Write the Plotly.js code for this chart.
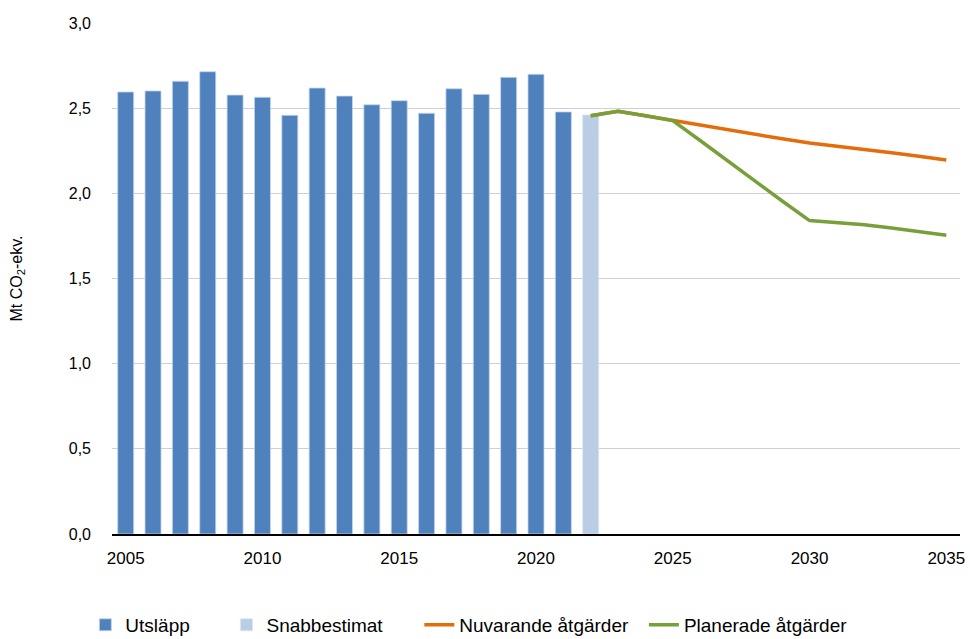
<!DOCTYPE html>
<html><head><meta charset="utf-8">
<script src="https://cdn.plot.ly/plotly-3.0.1.min.js"></script>
<style>html,body{margin:0;padding:0;background:#fff}#chart{width:970px;height:639px}</style>
</head><body><div id="chart"></div>
<script>
const yearsHist = [2005,2006,2007,2008,2009,2010,2011,2012,2013,2014,2015,2016,2017,2018,2019,2020,2021];
const utslapp = [2.595,2.601,2.658,2.714,2.577,2.564,2.458,2.618,2.571,2.520,2.544,2.470,2.614,2.581,2.681,2.699,2.478];
const yearsEst = [2022];
const snabb = [2.46];
const yearsProj = [2022,2023,2024,2025,2026,2027,2028,2029,2030,2031,2032,2033,2034,2035];
const nuvarande = [2.456,2.482,2.455,2.427,2.40,2.372,2.345,2.32,2.296,2.275,2.256,2.238,2.218,2.196];
const planerade = [2.456,2.482,2.455,2.427,2.31,2.19,2.07,1.955,1.84,1.828,1.815,1.797,1.775,1.754];
const seriesNames = ['Utsläpp','Snabbestimat','Nuvarande åtgärder','Planerade åtgärder'];
const xTicks = [2005,2010,2015,2020,2025,2030,2035];
const yTicks = [0,0.5,1.0,1.5,2.0,2.5,3.0];
const yTickText = ['0,0','0,5','1,0','1,5','2,0','2,5','3,0'];

const nb = n => '\u00A0'.repeat(n);
const font = 'Liberation Sans, Arial, sans-serif';
const traces = [
  {type:'bar', name:seriesNames[0]+nb(6), x:yearsHist, y:utslapp, width:0.585,
   marker:{color:'#4F81BD', line:{color:'#C6D5EA', width:0.8}}},
  {type:'bar', name:seriesNames[1]+nb(6), x:yearsEst, y:snabb, width:0.585,
   marker:{color:'#B9CDE5', line:{color:'#DCE6F2', width:0.8}}},
  {type:'scatter', mode:'lines', name:seriesNames[2]+nb(2), x:yearsProj, y:nuvarande,
   line:{color:'#E46C0A', width:3.5}},
  {type:'scatter', mode:'lines', name:seriesNames[3], x:yearsProj, y:planerade,
   line:{color:'#77A03B', width:3.5}}
];
const layout = {
  width:970, height:639,
  margin:{l:112, r:10, t:23, b:105},
  paper_bgcolor:'#fff', plot_bgcolor:'#fff',
  font:{family:font, size:16, color:'#000'},
  barmode:'overlay',
  showlegend:true,
  legend:{orientation:'h', xref:'container', x:0.088, xanchor:'left',
          yref:'container', y:0.022, yanchor:'middle',
          font:{size:19, family:font}, traceorder:'normal', itemwidth:30},
  xaxis:{range:[2004.5,2035.5], tickvals:xTicks, ticktext:xTicks.map(String),
         showgrid:false, showline:true, linecolor:'#000', linewidth:1.5,
         ticks:'', zeroline:false, ticklabelstandoff:8, tickfont:{size:17}, fixedrange:true},
  yaxis:{range:[0,3.0], tickvals:yTicks, ticktext:yTickText,
         showgrid:true, gridcolor:'#D0D0D0', gridwidth:1, zeroline:false,
         showline:false, ticks:'', ticklabelstandoff:20,
         title:{text:'Mt CO<sub>2</sub>-ekv.', font:{size:16, family:font}, standoff:42}}
};
Plotly.newPlot('chart', traces, layout, {displayModeBar:false, staticPlot:true});
</script></body></html>
